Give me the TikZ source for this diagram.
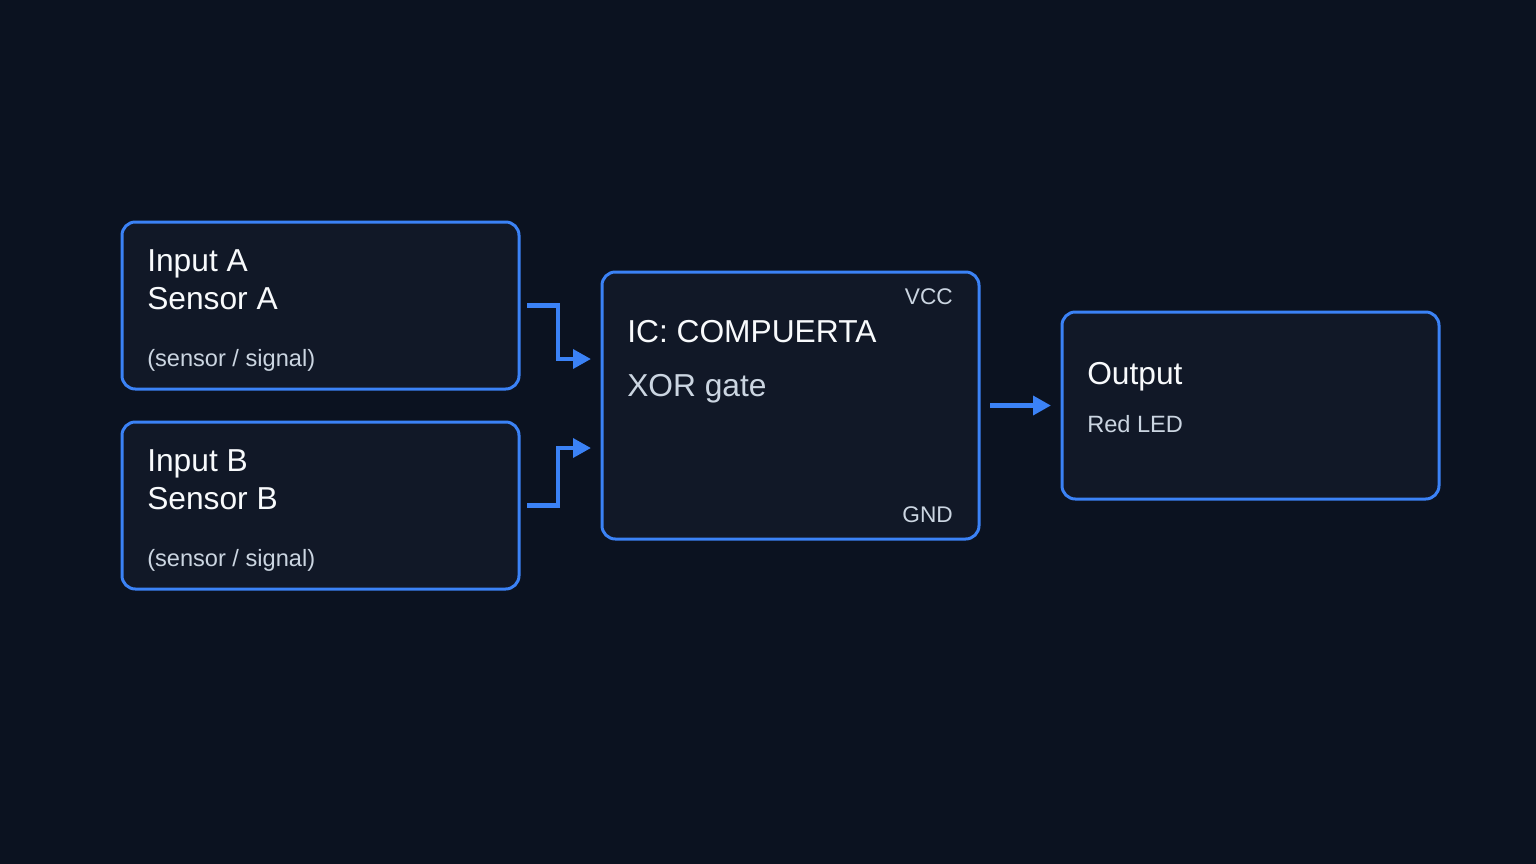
\documentclass[tikz,border=0pt]{standalone}
\usepackage{fontspec}
\setmainfont{Liberation Sans}
\usetikzlibrary{arrows.meta}

\definecolor{bgcol}{HTML}{0B1220}
\definecolor{boxfill}{HTML}{111827}
\definecolor{edgeblue}{HTML}{3B82F6}
\definecolor{titlecol}{HTML}{F8FAFC}
\definecolor{subcol}{HTML}{CBD5E1}

\begin{document}
\begin{tikzpicture}[x=0.75pt, y=-0.75pt, >={Triangle[length=13.5pt, width=14pt]},
    block/.style = {draw=edgeblue, fill=boxfill, line width=2.25pt, rounded corners=10pt,
        rectangle, outer sep=0pt, inner sep=0pt},
    title/.style = {text=titlecol, font=\fontsize{23.8}{28.5}\selectfont, align=left,
        inner sep=0pt, anchor=base west},
    sub/.style = {text=subcol, font=\fontsize{17.7}{21}\selectfont, inner sep=0pt, anchor=base west},
    pin/.style = {text=subcol, font=\fontsize{17}{20}\selectfont, inner sep=0pt},
    wire/.style = {->, draw=edgeblue, line width=3.3pt}]

    % Background
    \fill[bgcol] (0,0) rectangle (1536,864);

    % Blocks
    \node[block, minimum width=297.75pt, minimum height=125.25pt] (ina) at (320.5, 305.5) {};
    \node[block, minimum width=297.75pt, minimum height=125.25pt] (inb) at (320.5, 505.5) {};
    \node[block, minimum width=282.75pt, minimum height=200.25pt] (ic) at (790.5, 405.5) {};
    \node[block, minimum width=282.75pt, minimum height=140.25pt] (out) at (1250.5, 405.5) {};

    % Texts (base of a two-line node is its last line)
    \node[title] (inaT) at ([shift={(25,87)}]ina.north west) {Input A\\Sensor A};
    \node[sub] (inaS) at ([shift={(25,144)}]ina.north west) {(sensor / signal)};
    \node[title] (inbT) at ([shift={(25,87)}]inb.north west) {Input B\\Sensor B};
    \node[sub] (inbS) at ([shift={(25,144)}]inb.north west) {(sensor / signal)};

    \node[title] (icT) at ([shift={(25,70)}]ic.north west) {IC: COMPUERTA};
    \node[title, text=subcol] (icS) at ([shift={(25,124)}]ic.north west) {XOR gate};
    \node[pin, anchor=base east] (vcc) at ([shift={(-26,32)}]ic.north east) {VCC};
    \node[pin, anchor=base east] (gnd) at ([shift={(-26,-17)}]ic.south east) {GND};

    \node[title] (outT) at ([shift={(25,72)}]out.north west) {Output};
    \node[sub] (outS) at ([shift={(25,120)}]out.north west) {Red LED};

    % Connectors
    \draw[wire] ([shift={(8,0)}]ina.east) -- ++(31,0) |- ([shift={(-11,-46.5)}]ic.west);
    \draw[wire] ([shift={(8,0)}]inb.east) -- ++(31,0) |- ([shift={(-11,42.5)}]ic.west);
    \draw[wire] ([shift={(11,0)}]ic.east) -- ([shift={(-11,0)}]out.west);

\end{tikzpicture}
\end{document}
